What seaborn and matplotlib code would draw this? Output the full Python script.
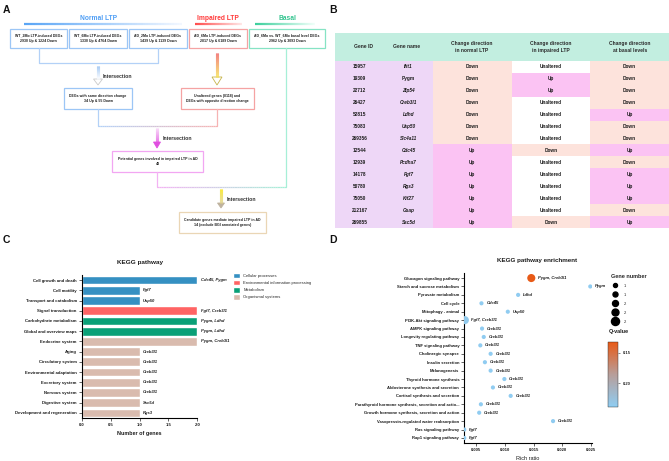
import numpy as np
import pandas as pd
import seaborn as sns
import matplotlib.pyplot as plt
from matplotlib.colors import LinearSegmentedColormap, ListedColormap, Normalize, to_rgb
from matplotlib.collections import LineCollection
from matplotlib.patches import Rectangle, Polygon
from matplotlib.cm import ScalarMappable
from matplotlib.lines import Line2D

W, H = 669, 461

# ---------------- panel A (flowchart text) ----------------
group_titles = ["Normal LTP", "Impaired LTP", "Basal"]
group_colors = ["#4f9ef5", "#ff3b3b", "#33c48f"]
deg_boxes = [
    "WT_2Mo LTP-induced DEGs\n2930 Up & 1224 Down",
    "WT_6Mo LTP-induced DEGs\n1330 Up & 4764 Down",
    "AD_2Mo LTP-induced DEGs\n1439 Up & 1139 Down",
    "AD_6Mo LTP-induced DEGs\n2817 Up & 6189 Down",
    "AD_6Mo vs. WT_6Mo basal level DEGs\n2962 Up & 3093 Down",
]
step_boxes = [
    "DEGs with same direction change\n34 Up & 55 Down",
    "Unaltered genes (8118) and\nDEGs with opposite direction change",
    "Potential genes involved in impaired LTP in AD\n43",
    "Candidate genes mediate impaired LTP in AD\n14 (exclude BGI annotated genes)",
]

# ---------------- panel B (table) ----------------
gene_ids = ["15957", "19309", "22712", "26427", "52815", "75083", "269356",
            "12544", "12939", "14178", "50780", "75050", "212167", "269855"]
gene_names = ["Ifit1", "Pygm", "Zfp54", "Creb3l1", "Ldhd", "Usp50", "Slc4a11",
              "Cdc45", "Pcdha7", "Fgf7", "Rgs3", "Kif27", "Gsap", "Ssc5d"]
normal_ltp = ["Down", "Down", "Down", "Down", "Down", "Down", "Down",
              "Up", "Up", "Up", "Up", "Up", "Up", "Up"]
impaired_ltp = ["Unaltered", "Up", "Up", "Unaltered", "Unaltered", "Unaltered", "Unaltered",
                "Down", "Unaltered", "Unaltered", "Unaltered", "Unaltered", "Unaltered", "Down"]
basal_level = ["Down", "Down", "Down", "Down", "Up", "Down", "Down",
               "Up", "Down", "Up", "Up", "Up", "Down", "Up"]
table_headers = ["Gene ID", "Gene name", "Change direction\nin normal LTP",
                 "Change direction\nin impaired LTP", "Change direction\nat basal levels"]

# ---------------- panel C (KEGG pathway bars) ----------------
kegg_pathways = ["Cell growth and death", "Cell motility", "Transport and catabolism",
                 "Signal transduction", "Carbohydrate metabolism", "Global and overview maps",
                 "Endocrine system", "Aging", "Circulatory system", "Environmental adaptation",
                 "Excretory system", "Nervous system", "Digestive system",
                 "Development and regeneration"]
kegg_counts = [2, 1, 1, 2, 2, 2, 2, 1, 1, 1, 1, 1, 1, 1]
kegg_classes = ["Cellular processes", "Cellular processes", "Cellular processes",
                "Environmental information processing", "Metabolism", "Metabolism",
                "Organismal systems", "Organismal systems", "Organismal systems",
                "Organismal systems", "Organismal systems", "Organismal systems",
                "Organismal systems", "Organismal systems"]
kegg_genes = ["Cdc45, Pygm", "Fgf7", "Usp50", "Fgf7, Creb3l1", "Pygm, Ldhd", "Pygm, Ldhd",
              "Pygm, Creb3l1", "Creb3l1", "Creb3l1", "Creb3l1", "Creb3l1", "Creb3l1",
              "Ssc5d", "Rgs3"]
class_colors = {"Cellular processes": "#3590c2",
                "Environmental information processing": "#ff6464",
                "Metabolism": "#0aa077",
                "Organismal systems": "#d9bbae"}

# ---------------- panel D (enrichment dots) ----------------
enrich_pathways = ["Glucagon signaling pathway", "Starch and sucrose metabolism",
                   "Pyruvate metabolism", "Cell cycle", "Mitophagy - animal",
                   "PI3K-Akt signaling pathway", "AMPK signaling pathway",
                   "Longevity regulating pathway", "TNF signaling pathway",
                   "Cholinergic synapse", "Insulin secretion", "Melanogenesis",
                   "Thyroid hormone synthesis", "Aldosterone synthesis and secretion",
                   "Cortisol synthesis and secretion",
                   "Parathyroid hormone synthesis, secretion and actio...",
                   "Growth hormone synthesis, secretion and action",
                   "Vasopressin-regulated water reabsorption",
                   "Ras signaling pathway", "Rap1 signaling pathway"]
rich_ratio = [0.0146, 0.0249, 0.0123, 0.0059, 0.0105, 0.0030, 0.0060, 0.0063, 0.0057, 0.0075,
              0.0065, 0.0075, 0.0099, 0.0079, 0.0110, 0.0058, 0.0055, 0.0184, 0.0029, 0.0029]
gene_number = [2, 1, 1, 1, 1, 2, 1, 1, 1, 1, 1, 1, 1, 1, 1, 1, 1, 1, 1, 1]
q_value = [0.132, 0.238, 0.238, 0.238, 0.238, 0.236, 0.238, 0.238, 0.238, 0.238,
           0.238, 0.238, 0.238, 0.238, 0.238, 0.238, 0.238, 0.238, 0.238, 0.238]
enrich_genes = ["Pygm, Creb3l1", "Pygm", "Ldhd", "Cdc45", "Usp50", "Fgf7, Creb3l1",
                "Creb3l1", "Creb3l1", "Creb3l1", "Creb3l1", "Creb3l1", "Creb3l1", "Creb3l1",
                "Creb3l1", "Creb3l1", "Creb3l1", "Creb3l1", "Creb3l1", "Fgf7", "Fgf7"]
size_legend_labels = ["1", "1", "2", "2", "2"]

sns.set_theme(style="white")
plt.rcParams["font.family"] = ["Liberation Sans", "DejaVu Sans"]
plt.rcParams["axes.linewidth"] = 0.8
TXT = "#1c1c1c"

fig = plt.figure(figsize=(W / 100, H / 100), dpi=100)


def rect(l, t, r, b):
    return [l / W, 1 - b / H, (r - l) / W, (b - t) / H]


# overlay in pixel coords for the flowchart / labels
axA = fig.add_axes([0, 0, 1, 1], zorder=0)
axA.set_xlim(0, W)
axA.set_ylim(H, 0)
axA.axis("off")


def grad(p0, p1, c0, c1, lw, n=60):
    xs = np.linspace(p0[0], p1[0], n + 1)
    ys = np.linspace(p0[1], p1[1], n + 1)
    segs = [[(xs[i], ys[i]), (xs[i + 1], ys[i + 1])] for i in range(n)]
    a, b = np.array(to_rgb(c0)), np.array(to_rgb(c1))
    cols = [a + (b - a) * t for t in np.linspace(0, 1, n)]
    axA.add_collection(LineCollection(segs, colors=cols, linewidths=lw, capstyle="butt"))


def box(l, t, r, b, color, text):
    axA.add_patch(Rectangle((l, t), r - l, b - t, fill=False, edgecolor=color, lw=0.9))
    axA.text((l + r) / 2, (t + b) / 2, text, ha="center", va="center", fontsize=2.5,
             weight="bold", linespacing=1.6, color=TXT)


def arrow(x, y0, y1, c0, c1, head_face, head_edge, hw=4.5, hl=6):
    grad((x, y0), (x, y1 - hl), c0, c1, 2.2)
    axA.add_patch(Polygon([(x - hw, y1 - hl), (x + hw, y1 - hl), (x, y1)], closed=True,
                          facecolor=head_face, edgecolor=head_edge, lw=0.6))


# header lines and titles
grad((24, 24.5), (182, 24.5), "#5aa5f5", "#f2f7ff", 1.6)
grad((195, 24.5), (242, 24.5), "#ff4d4d", "#ffe6e6", 1.6)
grad((255, 24.5), (315, 24.5), "#3ccf9c", "#f0fff9", 1.6)
for x, t, c in zip([99, 218, 287], group_titles, group_colors):
    axA.text(x, 18.5, t, ha="center", va="center", fontsize=4.8, weight="bold", color=c)

blue, red, green, pink, tan = "#9cc6f6", "#f5a3a3", "#86e3c4", "#f2a6f2", "#ead6b5"
for (l, r), c, t in zip([(10, 67), (69, 127), (129, 187), (189, 247), (249, 325)],
                        [blue, blue, blue, red, green], deg_boxes):
    box(l, 29, r, 48, c, t)
box(64, 88, 132, 109, blue, step_boxes[0])
box(181, 88, 254, 109, red, step_boxes[1])
box(112, 151, 203, 172, pink, step_boxes[2])
box(179, 212, 266, 233, tan, step_boxes[3])

# bracket 1
axA.plot([39, 39, 158, 158], [48, 63, 63, 48], color="#b3d1f7", lw=0.9)
arrow(98, 66, 85, "#8fbdf3", "#ffffff", "white", "#c9c9c9")
axA.text(103, 76, "Intersection", fontsize=3.7, weight="bold", va="center", color="#333333")
# impaired arrow
arrow(217, 53, 85, "#f05a5a", "#f7e24a", "white", "#c6b44a", hw=5, hl=8)
# bracket 2
axA.plot([98, 98], [109, 126], color="#b3d1f7", lw=0.9)
axA.plot([217, 217], [109, 126], color="#f6b3b3", lw=0.9)
grad((98, 126), (217, 126), "#b3d1f7", "#f6b3b3", 0.9)
arrow(157, 128, 148, "#f8d0f8", "#e04ee0", "#e04ee0", "#e04ee0", hw=3.5, hl=6)
axA.text(163, 138, "Intersection", fontsize=3.7, weight="bold", va="center", color="#333333")
# bracket 3
axA.plot([157, 157], [172, 187], color="#f3b3f3", lw=0.9)
grad((157, 187), (286, 187), "#f3b3f3", "#a6efd7", 0.9)
axA.plot([286, 286], [48, 187], color="#a6efd7", lw=0.9)
arrow(221, 189, 208, "#f9e400", "#ded08a", "#bfb39f", "#bfb39f", hw=3.5, hl=5)
axA.text(227, 199, "Intersection", fontsize=3.7, weight="bold", va="center", color="#333333")

for x, y, s in [(3, 10, "A"), (329, 10, "B"), (3, 240, "C"), (329, 240, "D")]:
    axA.text(x, y, s, fontsize=7.5, weight="bold", va="center", ha="left", color="#111111")

# ---------------- panel B ----------------
axA.add_patch(Rectangle((335, 33), 334, 28, facecolor="#c2eee0", edgecolor="none"))
for x, t in zip([364, 407, 472, 551, 630], table_headers):
    axA.text(x, 47, t, ha="center", va="center", fontsize=3.6, weight="bold",
             linespacing=1.3, color="#2a2a2a")

axG = fig.add_axes(rect(335, 61, 433, 228), zorder=2)
gene_annot = np.array([gene_ids, gene_names]).T
sns.heatmap(np.zeros((len(gene_ids), 2)), ax=axG, cmap=ListedColormap(["#eed7f7"]),
            annot=gene_annot, fmt="", cbar=False, xticklabels=False, yticklabels=False,
            annot_kws=dict(fontsize=3.4, weight="bold", color=TXT))
for t in axG.texts[1::2]:
    if t.get_text() != "Pygm":
        t.set_style("italic")

direction_codes = {"Down": 0, "Up": 1, "Unaltered": 2}
dir_table = pd.DataFrame({"normal": normal_ltp, "impaired": impaired_ltp, "basal": basal_level})
axT = fig.add_axes(rect(433, 61, 669, 228), zorder=2)
sns.heatmap(dir_table.replace(direction_codes).astype(int), ax=axT,
            cmap=ListedColormap(["#fde3dc", "#fbc3f3", "#ffffff"]), vmin=0, vmax=2,
            annot=dir_table.values, fmt="", cbar=False, xticklabels=False, yticklabels=False,
            annot_kws=dict(fontsize=3.4, weight="bold", color=TXT))

# ---------------- panel C ----------------
dfC = pd.DataFrame({"pathway": kegg_pathways, "genes": kegg_counts, "cls": kegg_classes})
axC = fig.add_axes(rect(81.7, 275, 197.3, 418), zorder=2)
sns.barplot(data=dfC, x="genes", y="pathway", hue="cls", palette=class_colors, dodge=False,
            width=0.85, saturation=1, ax=axC)
for i, (v, g) in enumerate(zip(kegg_counts, kegg_genes)):
    axC.annotate(g, (v, i), xytext=(2.5, 0), textcoords="offset points", va="center",
                 fontsize=3, style="italic", weight="bold", color=TXT, annotation_clip=False)
axC.set_xlim(0, 2.0)
axC.set_xticks([0, 0.5, 1.0, 1.5, 2.0])
axC.set_xticklabels(["0.0", "0.5", "1.0", "1.5", "2.0"])
axC.set_ylabel("")
axC.set_xlabel("Number of genes", fontsize=3.9, weight="bold", labelpad=3, color=TXT)
axC.set_title("KEGG pathway", fontsize=4.6, weight="bold", pad=8, color=TXT)
sns.despine(ax=axC)
for s in ["left", "bottom"]:
    axC.spines[s].set_color("black")
    axC.spines[s].set_linewidth(0.8)
axC.tick_params(axis="both", which="both", length=2, width=0.5, pad=1.5, labelsize=3.1,
                direction="out", left=True, bottom=True, labelcolor=TXT)
for lab in axC.get_xticklabels() + axC.get_yticklabels():
    lab.set_fontweight("bold")
h, l = axC.get_legend_handles_labels()
axC.legend(h, l, loc="upper left", bbox_to_anchor=(229 / W, 1 - 269 / H),
           bbox_transform=fig.transFigure, frameon=False, fontsize=3, handlelength=1.8,
           handleheight=1.6, handletextpad=0.7, labelspacing=0.45)

# ---------------- panel D ----------------
dfD = pd.DataFrame({"pathway": enrich_pathways, "rich": rich_ratio, "genes": gene_number,
                    "q": q_value, "label": enrich_genes})
qcmap = LinearSegmentedColormap.from_list("q", ["#e85a17", "#b79e9a", "#8fcdf2"])
qnorm = Normalize(0.132, 0.239)
axD = fig.add_axes(rect(464, 273, 592, 443), zorder=2)
sns.scatterplot(data=dfD, x="rich", y="pathway", hue="q", palette=qcmap, hue_norm=qnorm,
                size="genes", sizes=(9, 34), size_norm=(1, 2), legend=False,
                edgecolor="none", ax=axD, zorder=3)
for i, r in dfD.iterrows():
    off = 4.5 if r["genes"] > 1 else 3.5
    axD.annotate(r["label"], (r["rich"], i), xytext=(off, 0), textcoords="offset points",
                 va="center", fontsize=3, style="italic", weight="bold", color=TXT,
                 annotation_clip=False)
axD.set_xlim(0.00285, 0.0252)
axD.set_ylim(len(enrich_pathways) - 0.4, -0.6)
axD.set_xticks([0.005, 0.010, 0.015, 0.020, 0.025])
axD.set_xticklabels(["0.005", "0.010", "0.015", "0.020", "0.025"])
axD.set_ylabel("")
axD.set_xlabel("Rich ratio", fontsize=4, labelpad=3, color=TXT)
axD.set_title("KEGG pathway enrichment", fontsize=4.5, weight="bold", pad=8, x=0.57, color=TXT)
sns.despine(ax=axD)
for s in ["left", "bottom"]:
    axD.spines[s].set_color("black")
    axD.spines[s].set_linewidth(0.8)
axD.tick_params(axis="both", length=2, width=0.5, pad=1.5, labelsize=3,
                direction="out", left=True, bottom=True, labelcolor=TXT)
for lab in axD.get_xticklabels() + axD.get_yticklabels():
    lab.set_fontweight("bold")

size_handles = [Line2D([], [], marker="o", linestyle="", color="black", markersize=m)
                for m in [2.9, 3.6, 4.3, 5.0, 5.8]]
leg = axD.legend(size_handles, size_legend_labels, title="Gene number", loc="upper left",
                 bbox_to_anchor=(607 / W, 1 - 270 / H), bbox_transform=fig.transFigure,
                 frameon=False, fontsize=3, title_fontsize=4, handletextpad=1.2,
                 labelspacing=1.2, alignment="left")
leg.get_title().set_fontweight("bold")

cax = fig.add_axes(rect(608, 342, 618, 407), zorder=2)
cb = fig.colorbar(ScalarMappable(norm=qnorm, cmap=qcmap), cax=cax, ticks=[0.15, 0.20])
cax.invert_yaxis()
cb.ax.set_yticklabels(["0.15", "0.20"])
cb.ax.tick_params(labelsize=3, length=1.5, width=0.4, pad=2)
cb.outline.set_linewidth(0.3)
for lab in cb.ax.get_yticklabels():
    lab.set_fontweight("bold")
fig.text(609 / W, 1 - 332 / H, "Q-value", fontsize=4, weight="bold", va="center", color=TXT)

fig.savefig("out.png", dpi=100)
